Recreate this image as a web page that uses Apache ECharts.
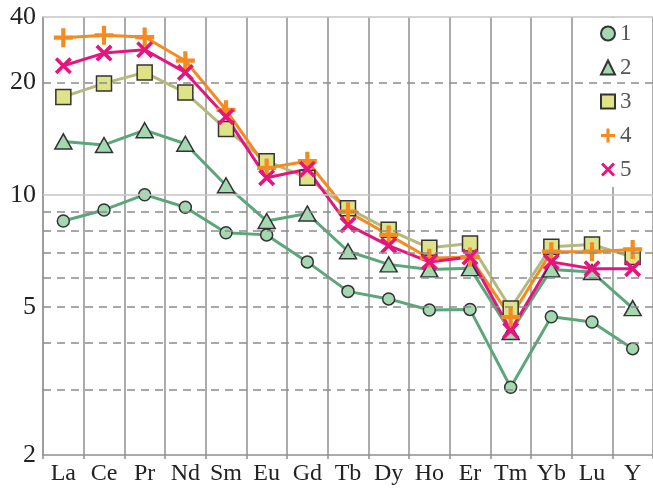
<!DOCTYPE html>
<html>
<head>
<meta charset="utf-8">
<script src="https://cdn.jsdelivr.net/npm/echarts@6/dist/echarts.min.js"></script>
<style>
  html, body { margin: 0; padding: 0; background: #fff; }
  #chart { width: 653px; height: 488px; }
</style>
</head>
<body>
<div id="chart"></div>
<script>
// 元素（横轴）
var elements = ['La', 'Ce', 'Pr', 'Nd', 'Sm', 'Eu', 'Gd', 'Tb', 'Dy', 'Ho', 'Er', 'Tm', 'Yb', 'Lu', 'Y'];
// 五个样品
var s1 = [8.5, 9.1, 10.0, 9.25, 7.9, 7.8, 6.6, 5.5, 5.25, 4.9, 4.92, 3.04, 4.7, 4.55, 3.86];
var s2 = [13.9, 13.6, 14.9, 13.7, 10.6, 8.5, 8.9, 7.05, 6.5, 6.3, 6.35, 4.28, 6.3, 6.2, 4.96];
var s3 = [18.3, 19.9, 21.3, 18.8, 15.0, 12.3, 11.1, 9.2, 8.05, 7.2, 7.4, 4.95, 7.25, 7.35, 6.8];
var s4 = [26.4, 26.8, 26.5, 22.9, 16.9, 11.8, 12.3, 9.0, 7.8, 6.75, 6.8, 4.69, 7.03, 7.03, 7.13];
var s5 = [22.2, 24.0, 24.5, 21.3, 16.2, 11.1, 11.7, 8.3, 7.3, 6.6, 6.8, 4.32, 6.6, 6.33, 6.33];
// 纵轴刻度
var yLabels = [2, 5, 10, 20, 30];
var dashedLines = [3, 4, 5, 6, 7, 8, 9, 20];
var solidLines = [10, 30];

var plusPath = 'path://M7,0H11V7H18V11H11V18H7V11H0V7H7Z';
var crossPath = 'path://M3,0L10,7L17,0L20,3L13,10L20,17L17,20L10,13L3,20L0,17L7,10L0,3Z';
var serif = 'Liberation Serif';

var markData = [];
dashedLines.forEach(function (v) {
    markData.push({ yAxis: v, lineStyle: { type: [8, 6], color: '#8c8c8c', width: 1.5 } });
});
solidLines.forEach(function (v) {
    markData.push({ yAxis: v, lineStyle: { type: 'solid', color: '#c4c4c4', width: 1.5 } });
});

function mk(name, data, line, fill, symbol, size, border) {
    return {
        name: name,
        type: 'line',
        data: data,
        symbol: symbol,
        symbolSize: size,
        showSymbol: true,
        lineStyle: { color: line, width: 3 },
        itemStyle: {
            color: fill,
            borderColor: border ? '#333' : fill,
            borderWidth: border ? 1.5 : 0
        },
        emphasis: { disabled: true },
        z: 3
    };
}

var option = {
    animation: false,
    backgroundColor: '#fff',
    grid: { left: 43, right: 0, top: 17, bottom: 33 },
    legend: {
        orient: 'vertical',
        left: 582,
        top: 18,
        padding: [4, 12, 6, 18],
        itemGap: 11,
        itemWidth: 14,
        itemHeight: 14,
        backgroundColor: '#fff',
        textStyle: { fontFamily: serif, fontSize: 23, color: '#555' },
        data: [
            { name: '1', icon: 'circle' },
            { name: '2', icon: 'triangle' },
            { name: '3', icon: 'rect' },
            { name: '4', icon: plusPath },
            { name: '5', icon: crossPath }
        ]
    },
    xAxis: {
        type: 'category',
        data: elements,
        boundaryGap: true,
        axisLine: { show: true, lineStyle: { color: '#8f8f8f', width: 1.5 } },
        axisTick: { show: true, interval: 0, length: 4, lineStyle: { color: '#8f8f8f', width: 1.5 } },
        axisLabel: { interval: 0, fontFamily: serif, fontSize: 24, color: '#222', margin: 7 },
        splitLine: { show: true, interval: 0, lineStyle: { color: '#8f8f8f', width: 1.5 } }
    },
    yAxis: {
        type: 'log',
        logBase: 10,
        min: 2,
        max: 30,
        axisLine: { show: true, lineStyle: { color: '#9a9a9a', width: 1.5 } },
        axisTick: { show: false },
        splitLine: { show: false },
        axisLabel: {
            fontFamily: serif,
            fontSize: 26,
            color: '#222',
            margin: 7,
            customValues: yLabels,
            formatter: function (v) { return v >= 29 ? '40' : String(Math.round(v)); }
        }
    },
    series: [
        {
            name: 'grid',
            type: 'line',
            data: [],
            silent: true,
            z: 1,
            markLine: {
                silent: true,
                symbol: 'none',
                label: { show: false },
                data: markData
            }
        },
        mk('1', s1, '#5ca77a', '#a3d8b0', 'circle', 12, true),
        mk('2', s2, '#5ca77a', '#a3d8b0', 'triangle', [17, 15], true),
        mk('3', s3, '#b6b97d', '#dfe388', 'rect', 15, true),
        mk('4', s4, '#f58a1f', '#f58a1f', plusPath, 19, false),
        mk('5', s5, '#e5157f', '#e5157f', crossPath, 17, false)
    ]
};

var chart = echarts.init(document.getElementById('chart'));
chart.setOption(option);
</script>
</body>
</html>
